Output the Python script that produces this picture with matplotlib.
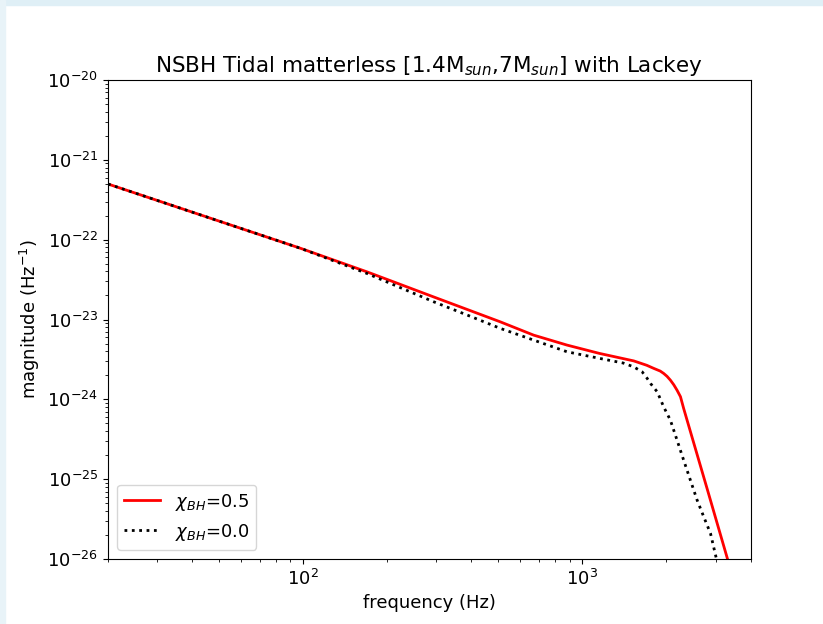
import matplotlib
matplotlib.use('Agg')
import matplotlib.pyplot as plt
from matplotlib.patches import Rectangle

# frequency (Hz) and magnitude
freq_05 = [20, 98, 169, 293, 508, 669, 881, 1151, 1527, 1700, 1802, 1900, 1955,
           2010, 2066, 2125, 2183, 2245, 2305, 2371, 2800, 3304, 3450]
mag_05 = [4.98e-22, 7.78e-23, 3.96e-23, 1.92e-23, 9.35e-24, 6.37e-24, 4.78e-24,
          3.76e-24, 3.03e-24, 2.67e-24, 2.44e-24, 2.26e-24, 2.11e-24, 1.94e-24,
          1.74e-24, 1.52e-24, 1.30e-24, 1.08e-24, 7.69e-25, 5.48e-25, 7.50e-26,
          1.02e-26, 6.0e-27]

freq_00 = [20, 98, 169, 293, 386, 508, 669, 881, 1151, 1400, 1527, 1637, 1706,
           1754, 1854, 1955, 2066, 2183, 2305, 2437, 2576, 2721, 2876, 2998, 3100]
mag_00 = [4.98e-22, 7.78e-23, 3.78e-23, 1.67e-23, 1.14e-23, 7.74e-24, 5.52e-24,
          3.94e-24, 3.26e-24, 2.85e-24, 2.55e-24, 2.21e-24, 1.83e-24, 1.58e-24,
          1.24e-24, 8.05e-25, 5.48e-25, 3.08e-25, 1.73e-25, 9.70e-26, 5.46e-26,
          3.37e-26, 2.09e-26, 1.12e-26, 6.9e-27]

W, H = 823, 624
fig = plt.figure(figsize=(W / 100., H / 100.), dpi=100)

# light blue page border (screenshot frame)
fig.patches.append(Rectangle((0, 1 - 5. / H), 1, 5. / H, transform=fig.transFigure,
                             color='#dfeff6', zorder=-10))
fig.patches.append(Rectangle((0, 0), 5. / W, 1, transform=fig.transFigure,
                             color='#e8f3f8', zorder=-10))

ax = fig.add_axes([108. / W, 1 - 559. / H, (750.5 - 108.) / W, (559. - 80.) / H])
ax.loglog(freq_05, mag_05, '-', color='red', lw=2, label=r'$\chi_{BH}$=0.5')
ax.loglog(freq_00, mag_00, ':', color='black', lw=2, label=r'$\chi_{BH}$=0.0')

ax.set_xlim(20, 4000)
ax.set_ylim(1e-26, 1e-20)
ax.tick_params(labelsize=13)

ax.set_xlabel('frequency (Hz)', fontsize=13)
ax.set_ylabel(r'magnitude (Hz$^{-1}$)', fontsize=13)
ax.set_title(r'NSBH Tidal matterless [1.4M$_{sun}$,7M$_{sun}$] with Lackey', fontsize=15.5)
ax.legend(loc='lower left', fontsize=13)

plt.savefig('out.png', dpi=100)
plt.close()
